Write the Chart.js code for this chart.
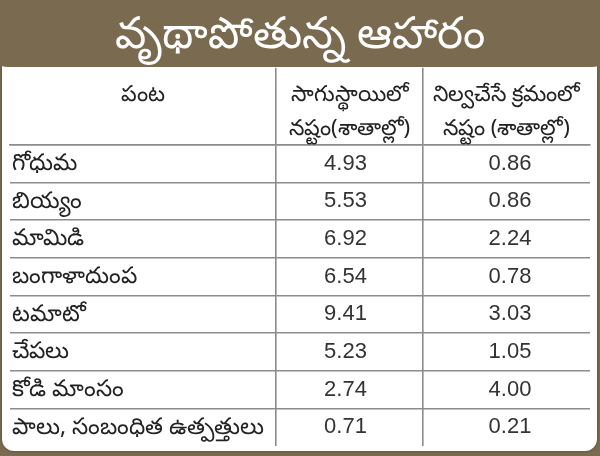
<!DOCTYPE html>
<html>
<head>
<meta charset="utf-8">
<script src="https://cdn.jsdelivr.net/npm/chart.js@4"></script>
<style>
  html, body { margin: 0; padding: 0; background: #7a6a50; }
  canvas { display: block; }
</style>
</head>
<body>
<canvas id="table" width="600" height="456"></canvas>
<script>
const title = "వృథాపోతున్న ఆహారం";
const headers = [["పంట"], ["సాగుస్థాయిలో", "నష్టం(శాతాల్లో)"], ["నిల్వచేసే క్రమంలో", "నష్టం (శాతాల్లో)"]];
const crops = ["గోధుమ", "బియ్యం", "మామిడి", "బంగాళాదుంప", "టమాటో", "చేపలు", "కోడి మాంసం", "పాలు, సంబంధిత ఉత్పత్తులు"];
const fieldLoss = [4.93, 5.53, 6.92, 6.54, 9.41, 5.23, 2.74, 0.71];
const storageLoss = [0.86, 0.86, 2.24, 0.78, 3.03, 1.05, 4.00, 0.21];

// column edges in table units (0..580 across the panel)
const colEdges = [0, 266, 413, 580];
const colMid = i => (colEdges[i] + colEdges[i + 1]) / 2;
// where the numbers sit in columns 2 and 3
const valueX = [335.5, 500];

const BROWN = "#7a6a50";
const LINE = "#8c8c8c";
const TEL = "'Noto Sans', sans-serif";
const NUM = "'Liberation Sans', Arial, sans-serif";

const background = {
  id: "background",
  beforeDraw(chart) {
    const ctx = chart.ctx;
    ctx.save();
    ctx.fillStyle = BROWN;
    ctx.fillRect(0, 0, chart.width, chart.height);
    // white panel
    ctx.shadowColor = "rgba(0,0,0,0.35)";
    ctx.shadowBlur = 3;
    ctx.fillStyle = "#fff";
    ctx.beginPath();
    ctx.roundRect(2, 30, 595, 421, 12);
    ctx.fill();
    ctx.shadowColor = "transparent";
    // title band
    ctx.fillStyle = BROWN;
    ctx.beginPath();
    ctx.roundRect(-10, -10, 620, 77, [0, 0, 18, 18]);
    ctx.fill();
    ctx.restore();
  }
};

const cells = {
  id: "cells",
  afterDraw(chart) {
    const ctx = chart.ctx;
    const x = chart.scales.x;
    ctx.save();
    ctx.textAlign = "center";
    ctx.textBaseline = "middle";
    ctx.fillStyle = "#222";
    ctx.font = "22px " + TEL;
    headers.forEach((lines, i) => {
      const cx = x.getPixelForValue(colMid(i));
      lines.forEach((t, j) => ctx.fillText(t, cx, 95 + j * 34));
    });
    ctx.font = "22px " + NUM;
    ctx.fillStyle = "#333";
    chart.data.datasets.forEach((ds, d) => {
      chart.getDatasetMeta(d).data.forEach((pt, i) => {
        ctx.fillText(ds.data[i].v.toFixed(2), pt.x, pt.y);
      });
    });
    ctx.restore();
  }
};

new Chart(document.getElementById("table"), {
  type: "scatter",
  data: {
    datasets: [
      { label: headers[1].join(" "), data: fieldLoss.map((v, i) => ({ x: valueX[0], y: crops[i], v })) },
      { label: headers[2].join(" "), data: storageLoss.map((v, i) => ({ x: valueX[1], y: crops[i], v })) }
    ]
  },
  options: {
    responsive: false,
    animation: false,
    layout: { padding: { left: 10, right: 10, top: 0, bottom: 10 } },
    elements: { point: { radius: 0, hoverRadius: 0 } },
    plugins: {
      legend: { display: false },
      tooltip: { enabled: false },
      title: {
        display: true,
        text: title,
        color: "#fff",
        font: { family: TEL, size: 44, weight: "normal", lineHeight: 1.2 },
        padding: { top: 9, bottom: 6 }
      }
    },
    scales: {
      x: {
        type: "linear",
        position: "top",
        min: colEdges[0],
        max: colEdges[colEdges.length - 1],
        afterBuildTicks: s => { s.ticks = colEdges.slice(1, -1).map(v => ({ value: v })); },
        afterFit: s => { s.height = 77; s.paddingLeft = 0; s.paddingRight = 0; },
        ticks: { display: false },
        grid: { color: LINE, lineWidth: 1.6, drawTicks: true, tickLength: 77 },
        border: { display: true, color: LINE, width: 1.6 }
      },
      y: {
        type: "category",
        labels: crops,
        offset: true,
        afterFit: s => { s.width = 0; s.paddingTop = 0; s.paddingBottom = 0; },
        ticks: { mirror: true, padding: 2, color: "#222", font: { family: TEL, size: 23 } },
        grid: {
          offset: true,
          drawTicks: false,
          lineWidth: 1.6,
          color: c => (c.type === "tick" ? LINE : "transparent")
        },
        border: { display: false }
      }
    }
  },
  plugins: [background, cells]
});
</script>
</body>
</html>
